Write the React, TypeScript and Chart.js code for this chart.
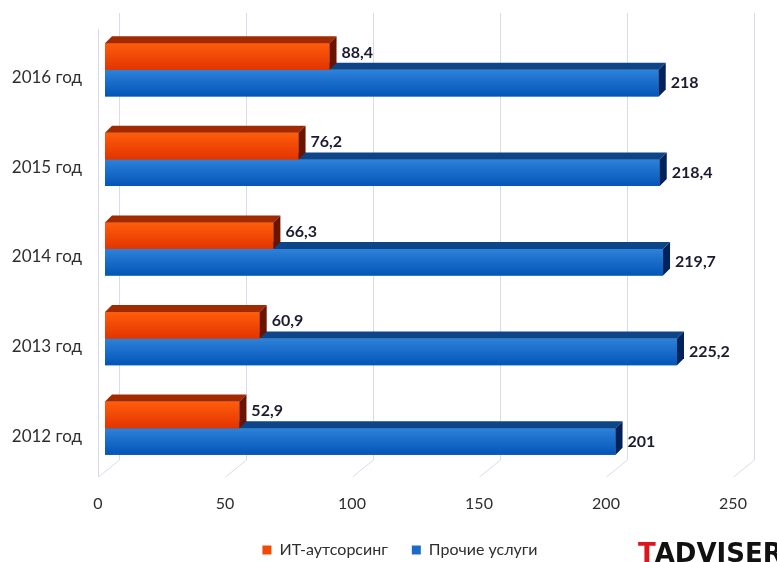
import React, { useEffect, useRef } from 'react';
import { Chart, registerables } from 'chart.js';

Chart.register(...registerables);

// Market volume by year, two service groups
const years = ['2016 год', '2015 год', '2014 год', '2013 год', '2012 год'];
const itOutsourcing = [88.4, 76.2, 66.3, 60.9, 52.9];
const otherServices = [218, 218.4, 219.7, 225.2, 201];
const seriesNames = ['ИТ-аутсорсинг', 'Прочие услуги'];
const xTicks = [0, 50, 100, 150, 200, 250];

const FONT = 'Lato, "Noto Sans", sans-serif';
const TEXT = '#2e2e2e';
const DEPTH = 7; // extrusion of the 3D bars
const LEGEND_CENTER = 400;

// front gradient, top face, side face for each dataset
const palettes = [
  { front: ['#ff5d0c', '#e23400'], top: '#a12a00', side: '#6a1400', flat: '#f24a05', labelDy: -4 },
  { front: ['#2d82da', '#0355b6'], top: '#0d4588', side: '#03215a', flat: '#1a6cc8', labelDy: 0 },
];

const fmt = (v: number) => String(v).replace('.', ',');

const bars3d = {
  id: 'bars3d',
  afterLayout(chart: any) {
    // centre the legend row under the plot
    const lg = chart.legend;
    if (lg) {
      const shift = LEGEND_CENTER - (lg.left + lg.right) / 2;
      lg.left += shift;
      lg.right += shift;
    }
  },
  beforeDatasetsDraw(chart: any) {
    const { ctx, chartArea: a, scales } = chart;
    const x = scales.x;
    const backTop = a.top - 12;
    const backBottom = a.bottom - 13;
    const frontBottom = a.bottom + 4;
    ctx.save();
    ctx.strokeStyle = '#d7dce8';
    ctx.lineWidth = 1;
    for (const v of xTicks) {
      const p = Math.round(x.getPixelForValue(v)) + 0.5;
      ctx.beginPath();
      ctx.moveTo(p + 14, backTop);
      ctx.lineTo(p + 14, backBottom);
      ctx.lineTo(p - 7, frontBottom);
      ctx.stroke();
    }
    const p0 = Math.round(x.getPixelForValue(0)) + 0.5;
    ctx.beginPath();
    ctx.moveTo(p0 - 7, a.top + 4);
    ctx.lineTo(p0 - 7, frontBottom);
    ctx.stroke();
    ctx.restore();
  },
  afterDatasetDraw(chart: any, args: any) {
    const { ctx } = chart;
    const pal = palettes[args.index];
    const values = chart.data.datasets[args.index].data as number[];
    ctx.save();
    args.meta.data.forEach((bar: any, i: number) => {
      const { x, y, base, height } = bar.getProps(['x', 'y', 'base', 'height'], true);
      const top = y - height / 2;
      const bottom = y + height / 2;
      const g = ctx.createLinearGradient(0, top, 0, bottom);
      g.addColorStop(0, pal.front[0]);
      g.addColorStop(1, pal.front[1]);
      ctx.fillStyle = g;
      ctx.fillRect(base, top, x - base, height);

      ctx.fillStyle = pal.top;
      ctx.beginPath();
      ctx.moveTo(base, top);
      ctx.lineTo(base + DEPTH, top - DEPTH);
      ctx.lineTo(x + DEPTH, top - DEPTH);
      ctx.lineTo(x, top);
      ctx.closePath();
      ctx.fill();

      ctx.fillStyle = pal.side;
      ctx.beginPath();
      ctx.moveTo(x, top);
      ctx.lineTo(x + DEPTH, top - DEPTH);
      ctx.lineTo(x + DEPTH, bottom - DEPTH);
      ctx.lineTo(x, bottom);
      ctx.closePath();
      ctx.fill();

      ctx.fillStyle = '#1c1c30';
      ctx.font = `bold 16px ${FONT}`;
      ctx.textAlign = 'left';
      ctx.textBaseline = 'middle';
      ctx.fillText(fmt(values[i]), x + DEPTH + 5, y + pal.labelDy);
    });
    ctx.restore();
  },
  afterDraw(chart: any) {
    const { ctx } = chart;
    ctx.save();
    ctx.font = 'bold 26px "DejaVu Sans", sans-serif';
    ctx.textBaseline = 'alphabetic';
    ctx.textAlign = 'left';
    const x0 = 638;
    const yb = 562;
    ctx.fillStyle = '#e0141c';
    ctx.fillText('T', x0, yb);
    const w = ctx.measureText('T').width;
    ctx.fillStyle = '#111111';
    ctx.fillText('ADVISER', x0 + w - 1, yb);
    ctx.restore();
  },
};

export default function App() {
  const ref = useRef<HTMLCanvasElement | null>(null);

  useEffect(() => {
    if (!ref.current) return;
    const chart = new Chart(ref.current, {
      type: 'bar',
      data: {
        labels: years,
        datasets: [
          {
            label: seriesNames[0],
            data: itOutsourcing,
            backgroundColor: palettes[0].flat,
            borderWidth: 0,
            categoryPercentage: 0.594,
            barPercentage: 1,
          },
          {
            label: seriesNames[1],
            data: otherServices,
            backgroundColor: palettes[1].flat,
            borderWidth: 0,
            categoryPercentage: 0.594,
            barPercentage: 1,
          },
        ],
      },
      options: {
        indexAxis: 'y',
        responsive: false,
        animation: false,
        devicePixelRatio: 1,
        events: [],
        layout: { padding: { top: 25, left: 0, right: 37, bottom: -6 } },
        scales: {
          x: {
            min: 0,
            max: 250,
            grid: { display: false, drawTicks: false },
            border: { display: false },
            ticks: {
              stepSize: 50,
              padding: 21,
              labelOffset: -7,
              color: TEXT,
              font: { family: FONT, size: 16 },
            },
            afterFit: (s: any) => {
              s.height = 45;
              s.paddingLeft = 0;
              s.paddingRight = 0;
            },
          },
          y: {
            grid: { display: false, drawTicks: false },
            border: { display: false },
            ticks: {
              padding: 23,
              labelOffset: 8,
              color: TEXT,
              font: { family: FONT, size: 17 },
            },
            afterFit: (s: any) => {
              s.width = 105;
              s.paddingTop = 0;
              s.paddingBottom = 0;
            },
          },
        },
        plugins: {
          legend: {
            position: 'bottom',
            labels: {
              boxWidth: 9,
              boxHeight: 9,
              padding: 24,
              color: TEXT,
              font: { family: FONT, size: 16 },
            },
          },
          tooltip: { enabled: false },
        },
      },
      plugins: [bars3d],
    });
    return () => chart.destroy();
  }, []);

  return (
    <div style={{ position: 'fixed', left: 0, top: 0, width: 777, height: 562, background: '#fff' }}>
      <canvas ref={ref} width={777} height={562} />
    </div>
  );
}
